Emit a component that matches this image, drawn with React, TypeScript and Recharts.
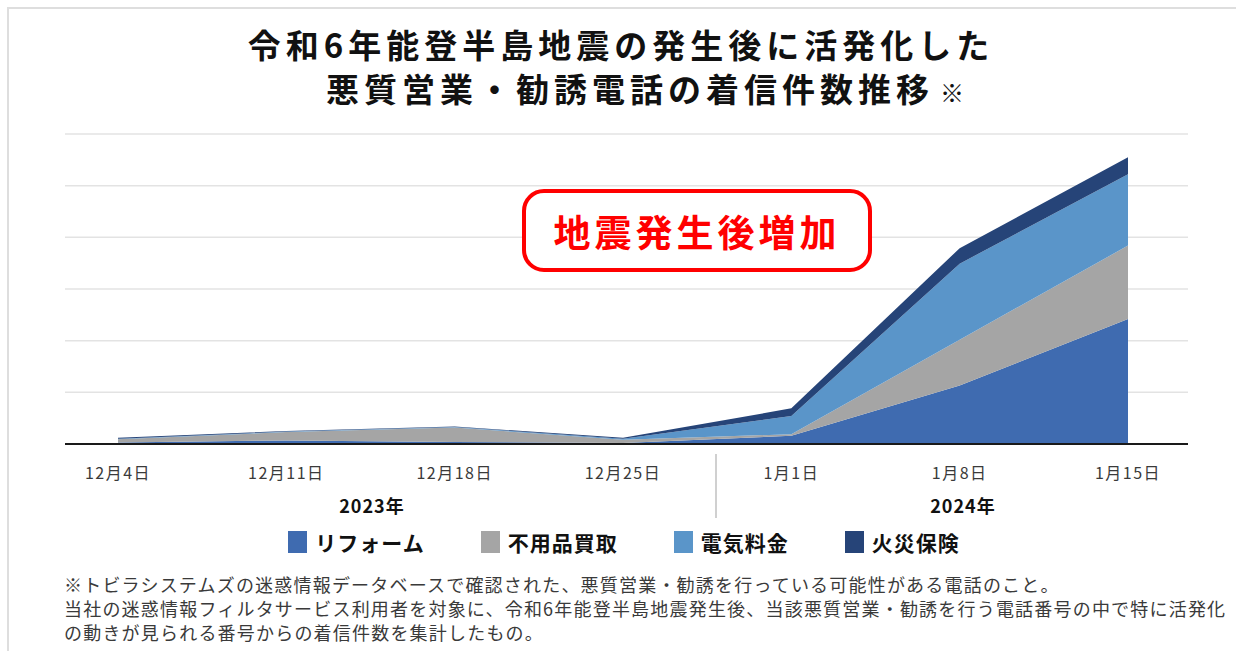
import { Area, AreaChart, CartesianGrid, XAxis, YAxis } from "recharts";

const DATES = ["12月4日", "12月11日", "12月18日", "12月25日", "1月1日", "1月8日", "1月15日"];
const REFORM = [3, 7, 4, 2, 16, 113, 242];
const BUYBACK = [6, 16, 28, 6, 3, 89, 142];
const ELECTRIC = [1, 1, 1, 2, 35, 147, 138];
const FIRE = [2, 1, 1, 2, 15, 30, 33];
const Y_TICKS = [0, 100, 200, 300, 400, 500, 600];
const YEARS = ["2023年", "2024年"];

const SERIES = [
  { key: "reform", name: "リフォーム", color: "#3F6BB0" },
  { key: "buyback", name: "不用品買取", color: "#A5A5A5" },
  { key: "electric", name: "電気料金", color: "#5A95C9" },
  { key: "fire", name: "火災保険", color: "#264478" },
];

const FONT = "'Noto Sans CJK JP', 'Noto Sans', sans-serif";

const data = DATES.map((date, i) => ({
  date,
  reform: REFORM[i],
  buyback: BUYBACK[i],
  electric: ELECTRIC[i],
  fire: FIRE[i],
}));

export default function App() {
  return (
    <div
      style={{
        position: "absolute",
        left: 0,
        top: 0,
        width: 1236,
        height: 651,
        overflow: "hidden",
        background: "#fff",
        fontFamily: FONT,
      }}
    >
      <div
        style={{
          position: "absolute",
          left: 7,
          top: 7,
          width: 1300,
          height: 700,
          borderTop: "2px solid #dedede",
          borderLeft: "2px solid #dedede",
        }}
      />

      <div
        style={{
          position: "absolute",
          left: 0,
          width: 1242,
          top: 21,
          textAlign: "center",
          fontSize: 33,
          fontWeight: 700,
          letterSpacing: 5,
          lineHeight: "46px",
          color: "#111",
        }}
      >
        令和6年能登半島地震の発生後に活発化した
      </div>
      <div
        style={{
          position: "absolute",
          left: 326,
          top: 65,
          whiteSpace: "nowrap",
          fontSize: 33,
          fontWeight: 700,
          letterSpacing: 5,
          lineHeight: "46px",
          color: "#111",
        }}
      >
        悪質営業・勧誘電話の着信件数推移
        <span style={{ fontSize: 24, letterSpacing: 0, marginLeft: 6 }}>※</span>
      </div>

      <AreaChart
        width={1236}
        height={651}
        data={data}
        margin={{ top: 134, right: 48, bottom: 177, left: 65 }}
        style={{ position: "absolute", left: 0, top: 0 }}
      >
        <CartesianGrid vertical={false} stroke="#e3e3e3" strokeWidth={1.5} />
        <YAxis hide domain={[0, 600]} ticks={Y_TICKS} />
        <XAxis
          dataKey="date"
          height={30}
          padding={{ left: 53, right: 60 }}
          tickLine={false}
          tickMargin={18}
          axisLine={{ stroke: "#1a1a1a", strokeWidth: 2 }}
          tick={{ fontSize: 16, fill: "#3a3a3a", fontFamily: FONT, letterSpacing: 1.5 }}
        />
        {SERIES.map((s) => (
          <Area
            key={s.key}
            type="linear"
            dataKey={s.key}
            name={s.name}
            stackId="calls"
            stroke="none"
            fill={s.color}
            fillOpacity={1}
            isAnimationActive={false}
          />
        ))}
      </AreaChart>

      <div
        style={{
          position: "absolute",
          left: 522,
          top: 189,
          width: 350,
          height: 83,
          boxSizing: "border-box",
          border: "4px solid #ff0000",
          borderRadius: 22,
          background: "#fff",
          display: "flex",
          alignItems: "center",
          justifyContent: "center",
          color: "#ff0000",
          fontSize: 37,
          fontWeight: 700,
          letterSpacing: 4,
        }}
      >
        地震発生後増加
      </div>

      <div
        style={{
          position: "absolute",
          left: 715,
          top: 454,
          width: 1.5,
          height: 64,
          background: "#d0d0d0",
        }}
      />
      {YEARS.map((y, i) => (
        <div
          key={y}
          style={{
            position: "absolute",
            left: i === 0 ? 272 : 863,
            width: 200,
            top: 492,
            textAlign: "center",
            fontSize: 18,
            fontWeight: 700,
            letterSpacing: 1,
            lineHeight: "26px",
            color: "#111",
          }}
        >
          {y}
        </div>
      ))}

      <div
        style={{
          position: "absolute",
          left: 0,
          width: 1248,
          top: 528,
          display: "flex",
          justifyContent: "center",
          gap: 56,
        }}
      >
        {SERIES.map((s) => (
          <div key={s.key} style={{ display: "flex", alignItems: "center" }}>
            <span
              style={{
                display: "inline-block",
                width: 19,
                height: 22,
                background: s.color,
                marginRight: 8,
              }}
            />
            <span
              style={{
                fontSize: 21,
                fontWeight: 700,
                letterSpacing: 1,
                lineHeight: "28px",
                color: "#111",
              }}
            >
              {s.name}
            </span>
          </div>
        ))}
      </div>

      <div
        style={{
          position: "absolute",
          left: 64,
          top: 572,
          fontSize: 18,
          letterSpacing: 1.2,
          lineHeight: "24px",
          color: "#3a3a3a",
          whiteSpace: "nowrap",
        }}
      >
        <div>※トビラシステムズの迷惑情報データベースで確認された、悪質営業・勧誘を行っている可能性がある電話のこと。</div>
        <div>当社の迷惑情報フィルタサービス利用者を対象に、令和6年能登半島地震発生後、当該悪質営業・勧誘を行う電話番号の中で特に活発化</div>
        <div>の動きが見られる番号からの着信件数を集計したもの。</div>
      </div>
    </div>
  );
}
